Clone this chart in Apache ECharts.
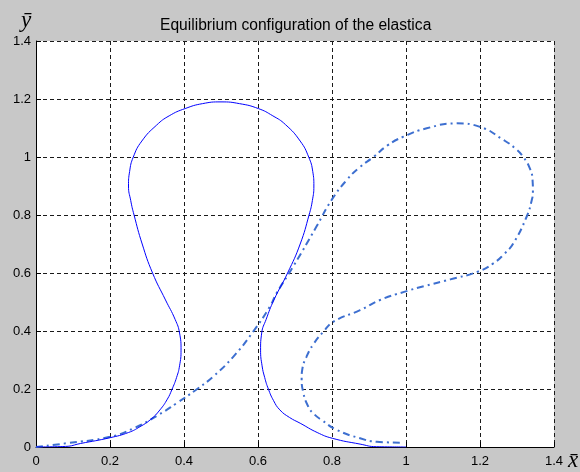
<!DOCTYPE html>
<html>
<head>
<meta charset="utf-8">
<script src="https://cdn.jsdelivr.net/npm/echarts@6/dist/echarts.min.js"></script>
<style>
  html, body { margin: 0; padding: 0; background: #c8c8c8; }
  #chart { width: 580px; height: 472px; }
</style>
</head>
<body>
<div id="chart"></div>
<script>
// Axis ticks (shared by both axes)
const tickValues = [0, 0.2, 0.4, 0.6, 0.8, 1, 1.2, 1.4];

// Equilibrium shape of the elastica (solid)
const elasticaX = [0, 0.08, 0.12, 0.2, 0.25, 0.281, 0.31, 0.335, 0.355, 0.367, 0.38, 0.388, 0.392, 0.388, 0.376, 0.35, 0.315, 0.287, 0.265, 0.256, 0.25, 0.253, 0.263, 0.286, 0.326, 0.36, 0.403, 0.45, 0.5, 0.55, 0.601, 0.64, 0.674, 0.714, 0.737, 0.748, 0.751, 0.747, 0.738, 0.714, 0.68, 0.643, 0.622, 0.61, 0.607, 0.611, 0.618, 0.628, 0.642, 0.659, 0.685, 0.714, 0.76, 0.801, 0.876, 0.92, 1.0];
const elasticaY = [0, 0.002, 0.012, 0.032, 0.05, 0.07, 0.095, 0.128, 0.165, 0.197, 0.24, 0.28, 0.334, 0.393, 0.44, 0.507, 0.6, 0.7, 0.8, 0.85, 0.9, 0.95, 1.0, 1.055, 1.11, 1.142, 1.167, 1.184, 1.19, 1.184, 1.167, 1.142, 1.112, 1.055, 1.0, 0.95, 0.9, 0.85, 0.8, 0.7, 0.6, 0.507, 0.44, 0.393, 0.334, 0.28, 0.24, 0.2, 0.16, 0.128, 0.102, 0.082, 0.05, 0.03, 0.01, 0.001, 0];

// Second configuration (dash-dot)
const deformedX = [0, 0.083, 0.2, 0.263, 0.33, 0.38, 0.43, 0.479, 0.533, 0.587, 0.632, 0.65, 0.695, 0.758, 0.799, 0.84, 0.875, 0.912, 0.95, 0.993, 1.056, 1.137, 1.2, 1.263, 1.295, 1.317, 1.335, 1.342, 1.343, 1.34, 1.326, 1.29, 1.265, 1.236, 1.195, 1.12, 1.05, 0.995, 0.93, 0.876, 0.804, 0.777, 0.75, 0.731, 0.72, 0.718, 0.722, 0.736, 0.752, 0.772, 0.813, 0.876, 0.921, 0.985];
const deformedY = [0, 0.013, 0.035, 0.064, 0.11, 0.151, 0.195, 0.243, 0.311, 0.398, 0.484, 0.53, 0.622, 0.76, 0.852, 0.921, 0.965, 1.0, 1.04, 1.07, 1.099, 1.116, 1.104, 1.059, 1.03, 1.0, 0.96, 0.921, 0.88, 0.852, 0.794, 0.702, 0.665, 0.633, 0.605, 0.578, 0.555, 0.535, 0.507, 0.472, 0.432, 0.398, 0.355, 0.311, 0.27, 0.237, 0.19, 0.139, 0.113, 0.093, 0.059, 0.03, 0.018, 0.015];

const pairs = (xs, ys) => xs.map((x, i) => [x, ys[i]]);

const tickFont = { fontFamily: 'Liberation Sans, Arial, sans-serif', fontSize: 13, color: '#000' };
const nameFont = 'italic 23px "Liberation Serif", "Times New Roman", serif';

function makeAxis(extra) {
  return Object.assign({
    type: 'value',
    min: tickValues[0],
    max: tickValues[tickValues.length - 1],
    interval: tickValues[1] - tickValues[0],
    axisLine: { show: true, onZero: false, lineStyle: { color: '#000', width: 1 } },
    axisTick: { show: true, inside: true, length: 5, lineStyle: { color: '#000' } },
    splitLine: { show: true, lineStyle: { color: '#1a1a1a', width: 1, type: [4, 3] } }
  }, extra);
}

const chart = echarts.init(document.getElementById('chart'), null, { renderer: 'canvas' });
chart.setOption({
  backgroundColor: '#c8c8c8',
  animation: false,
  title: {
    text: 'Equilibrium configuration of the elastica',
    left: 160,
    top: 18,
    padding: 0,
    textStyle: { fontFamily: 'Liberation Sans, Arial, sans-serif', fontSize: 15.6, fontWeight: 'normal', color: '#000' }
  },
  grid: {
    left: 36, right: 26, top: 41, bottom: 25,
    show: true, backgroundColor: '#ffffff', borderWidth: 0
  },
  xAxis: makeAxis({
    axisLabel: Object.assign({ margin: 8, showMinLabel: true, showMaxLabel: true }, tickFont)
  }),
  yAxis: makeAxis({
    axisLabel: Object.assign({ margin: 5, showMinLabel: true, showMaxLabel: true }, tickFont)
  }),
  // axis symbols: x-bar and y-bar
  graphic: [
    { type: 'text', x: 573, y: 461, style: { text: 'x\u0304', font: nameFont, fill: '#000', textAlign: 'center', textVerticalAlign: 'middle' } },
    { type: 'text', x: 26, y: 21, style: { text: '\u0233', font: nameFont, fill: '#000', textAlign: 'center', textVerticalAlign: 'middle' } }
  ],
  series: [
    {
      type: 'line',
      data: pairs(deformedX, deformedY),
      showSymbol: false,
      symbol: 'none',
      smooth: 0.5,
      lineStyle: { color: '#3d6fd0', width: 2, type: [7, 4, 2, 4] },
      z: 3
    },
    {
      type: 'line',
      data: pairs(elasticaX, elasticaY),
      showSymbol: false,
      symbol: 'none',
      smooth: 0.5,
      lineStyle: { color: '#0000ff', width: 1, type: 'solid' },
      z: 4
    }
  ]
});
</script>
</body>
</html>
